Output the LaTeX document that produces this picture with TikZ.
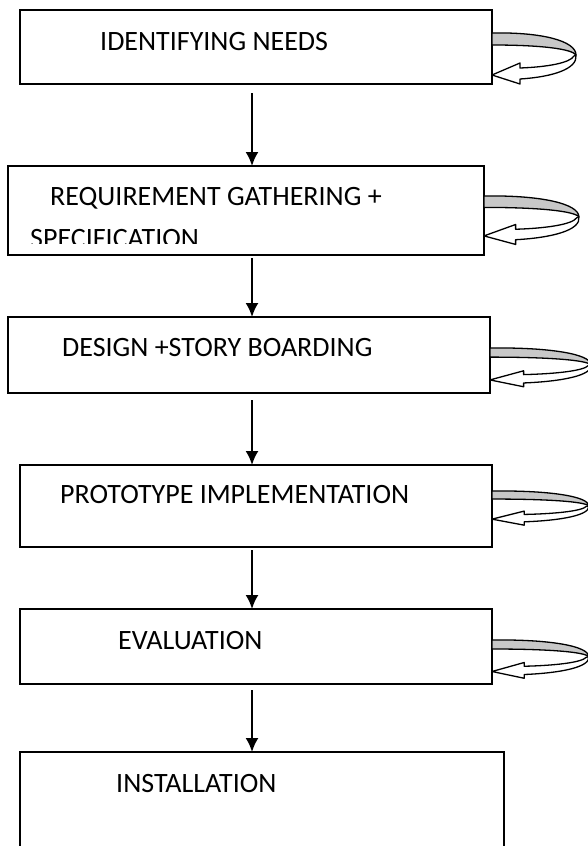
\documentclass[tikz,border=0pt]{standalone}
\usepackage{fontspec}
\setmainfont{Carlito}
\usetikzlibrary{arrows.meta}

\definecolor{bandgray}{RGB}{200,200,200}

\newcommand{\selfloop}[4]{%
  \path (#1.north east) ++(0,#2) coordinate (#1-loop);
  \begin{scope}[shift={(#1-loop)}, xscale=#3, yscale=#4]
    \draw[loopline, fill=white] (28,35) .. controls (55,34) and (78,30) .. (82,23)
      -- (84,22) .. controls (86,36) and (60,44) .. (28,46)
      -- (28,51) -- (0,42) -- (28,30) -- cycle;
    \draw[loopline, fill=bandgray] (0,0) .. controls (50,-1) and (84,8) .. (84,22)
      .. controls (80,16) and (50,12) .. (0,12) -- cycle;
  \end{scope}}

\begin{document}
\begin{tikzpicture}[x=1pt, y=-1pt,
    box/.style={draw=black, line width=2pt, inner sep=0pt, outer sep=0pt},
    txt/.style={anchor=base west, inner sep=0pt, font=\fontsize{28}{32}\selectfont},
    flow/.style={line width=2pt, -{Latex[length=14pt,width=13pt]}},
    loopline/.style={draw=black, line width=1.3pt, line join=round}]
	\useasboundingbox (0,0) rectangle (588,846);
	\coordinate (axis) at (252,0);

	\node[box, minimum width=472pt, minimum height=74pt]  (needs)  at (256,47)    {};
	\node[box, minimum width=476pt, minimum height=89pt]  (req)    at (246,210.5) {};
	\node[box, minimum width=482pt, minimum height=76pt]  (design) at (249,355)   {};
	\node[box, minimum width=472pt, minimum height=82pt]  (proto)  at (256,506)   {};
	\node[box, minimum width=472pt, minimum height=75pt]  (eval)   at (256,646.5) {};
	\node[box, minimum width=484pt, minimum height=128pt] (inst)   at (262,816)   {};

	\node[txt] (needs-t)  at (100,50)  {IDENTIFYING NEEDS};
	\node[txt] (req-t)    at (50,205)  {REQUIREMENT GATHERING +};
	\begin{scope}
		\clip (8,166) rectangle (484,243);
		\node[txt] (req-t2) at (30,247) {SPECIFICATION};
	\end{scope}
	\node[txt] (design-t) at (62,356)  {DESIGN +STORY BOARDING};
	\node[txt] (proto-t)  at (60,503)  {PROTOTYPE IMPLEMENTATION};
	\node[txt] (eval-t)   at (118,649) {EVALUATION};
	\node[txt] (inst-t)   at (116,792) {INSTALLATION};

    \draw[flow] ([yshift=-9pt]needs.south -| axis)  -- (req.north -| axis);
    \draw[flow] ([yshift=-3pt]req.south -| axis)    -- (design.north -| axis);
    \draw[flow] ([yshift=-7pt]design.south -| axis) -- (proto.north -| axis);
    \draw[flow] ([yshift=-3pt]proto.south -| axis)  -- (eval.north -| axis);
    \draw[flow] ([yshift=-6pt]eval.south -| axis)   -- (inst.north -| axis);

    \selfloop{needs}{23}{1}{1}
    \selfloop{req}{30}{1.13}{0.95}
    \selfloop{design}{31}{1.2}{0.76}
    \selfloop{proto}{26}{1.15}{0.67}
    \selfloop{eval}{31}{1.15}{0.75}
	\end{tikzpicture}
\end{document}
